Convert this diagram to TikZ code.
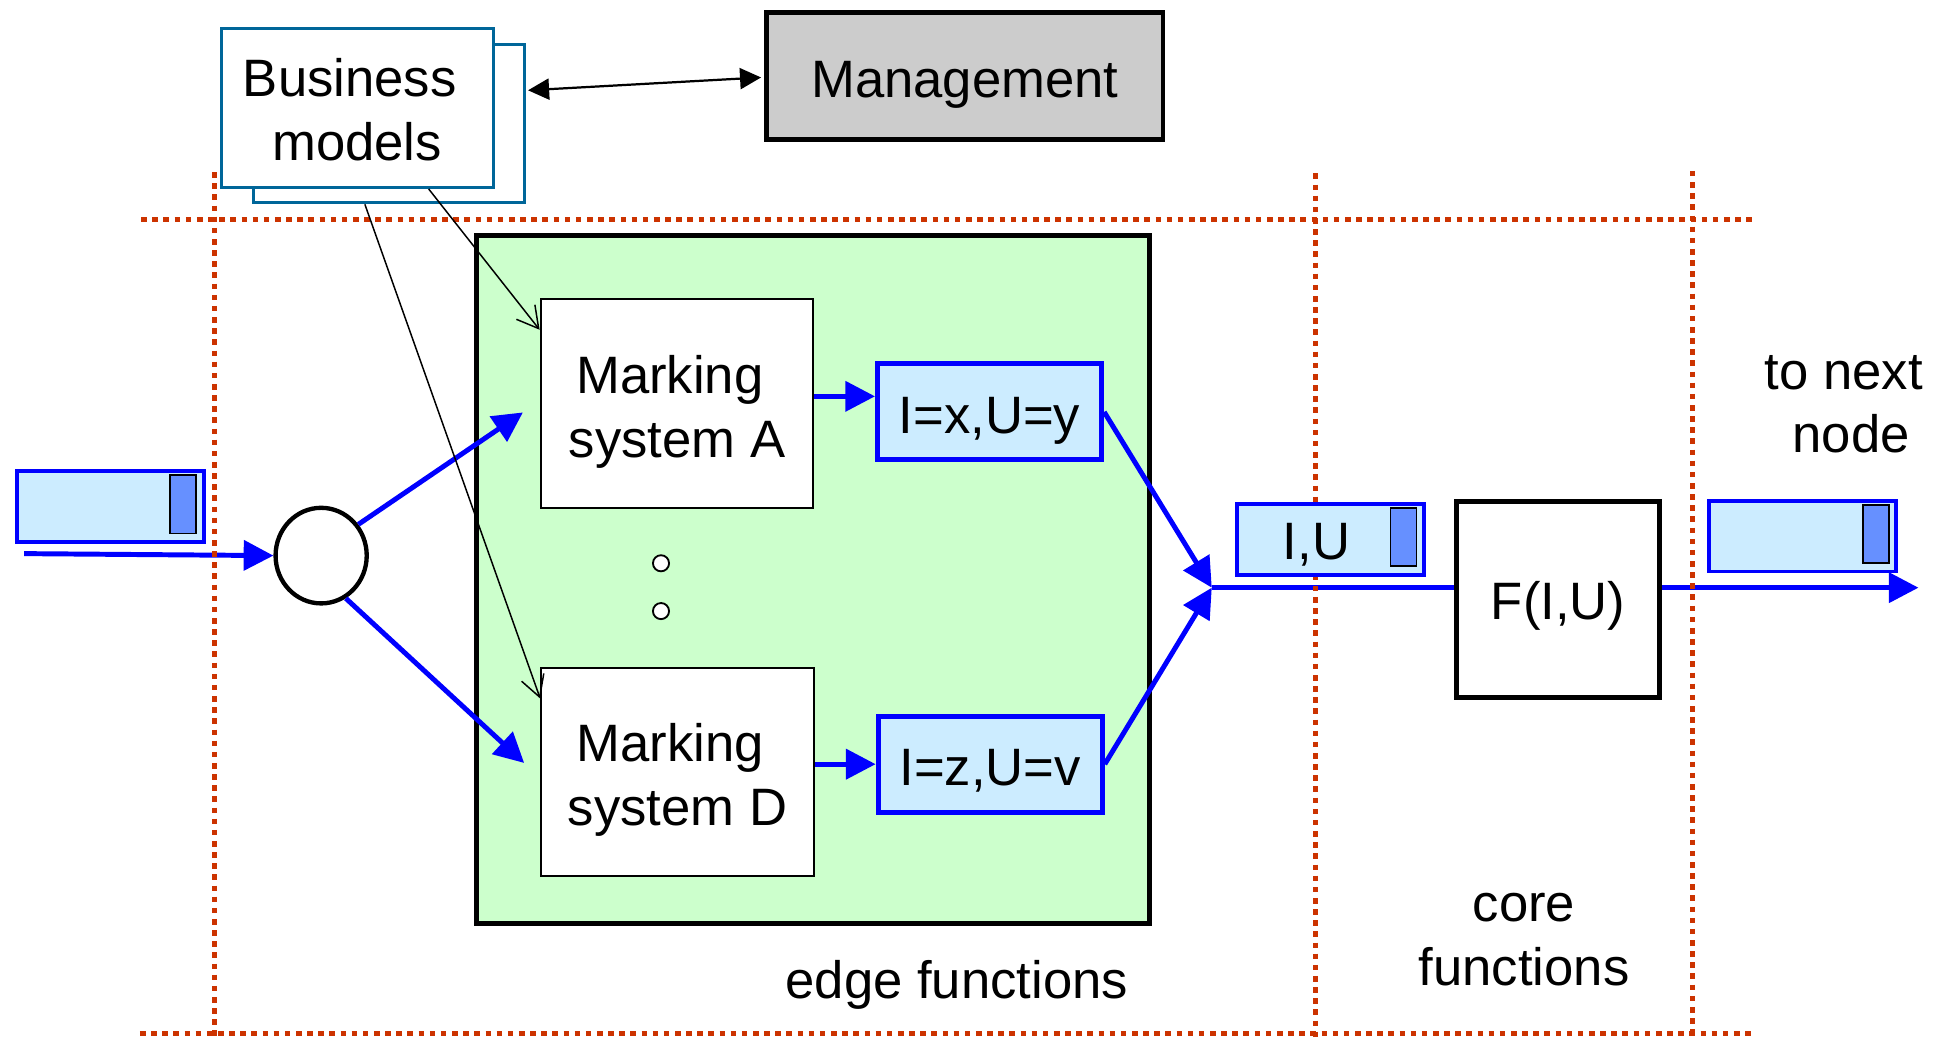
\documentclass[tikz,border=0pt]{standalone}
\usepackage{fontspec}
\setmainfont{Liberation Sans}
\usetikzlibrary{arrows.meta,shapes.geometric}

\definecolor{pktfill}{RGB}{204,236,255}
\definecolor{slotfill}{RGB}{102,144,255}
\definecolor{bmblue}{RGB}{0,102,153}
\definecolor{edgegreen}{RGB}{204,255,204}
\definecolor{mgmtgray}{RGB}{204,204,204}
\definecolor{zonered}{RGB}{204,51,0}

\tikzset{
  big/.style={font=\fontsize{42.5}{51.5}\selectfont},
  oneline/.style={big, text height=35pt, text depth=0pt},
  stack/.style={big, align=center, inner sep=0pt, anchor=north},
  bmbox/.style={draw=bmblue, line width=2.5pt, fill=white, minimum width=219pt, minimum height=128pt, inner sep=0pt},
  msbox/.style={draw=black, line width=1.6pt, fill=white, minimum width=220pt, minimum height=168.5pt, inner sep=0pt},
  tagbox/.style={oneline, draw=blue, line width=4pt, fill=pktfill, minimum width=181pt, minimum height=77.5pt, inner sep=0pt},
  pkt/.style={draw=blue, line width=3pt, fill=pktfill, minimum width=151pt, minimum height=57pt, inner sep=0pt},
  slot/.style={draw=black, line width=1.5pt, fill=slotfill, minimum width=21pt, minimum height=47pt, inner sep=0pt},
  flow/.style={draw=blue, line width=4pt},
  flowarrow/.style={flow, -{Triangle[length=24pt,width=24pt]}},
  thinarrow/.style={draw=black, line width=1.2pt, -{Straight Barb[length=17pt,width=19pt]}},
  zone/.style={draw=zonered, line width=4pt, dash pattern=on 4.5pt off 4.5pt},
  dotmark/.style={circle, draw=black, line width=1.5pt, fill=white, minimum size=13pt, inner sep=0pt},
}

\begin{document}
\begin{tikzpicture}[x=1pt,y=-1pt]
\useasboundingbox (0,0) rectangle (1568,838);

% business models (two stacked sheets) and management
\node[bmbox] (bmback) at (314.1,99.7) {};
\node[bmbox] (bm) at (288.6,87.3) {};
\node[stack] (bmtext) at (288.3,41.95) {\strut Business\kern.278em\\models};
\node[oneline, draw=black, line width=4pt, fill=mgmtgray, minimum width=320pt,
      minimum height=103pt, inner sep=0pt] (mgmt) at (779,61.5) {Management};
\draw[line width=1.8pt, {Triangle[length=17pt,width=17pt]}-{Triangle[length=17pt,width=17pt]},
      shorten <=1.5pt, shorten >=2.5pt]
  ([yshift=26.7pt]bmback.east) -- ([yshift=-0.9pt]mgmt.west);

% edge node: marking systems
\node[draw=black, line width=4pt, fill=edgegreen, minimum width=543pt,
      minimum height=555.6pt, inner sep=0pt] (edge) at (656.5,468.2) {};
\node[msbox] (msA) at (546.5,326) {};
\node[stack] (msAtext) at (546.7,281.55) {\strut Marking\kern.278em\\system A};
\node[msbox] (msD) at (547,623.4) {};
\node[stack] (msDtext) at (547,578.95) {\strut Marking\kern.278em\\system D};
\node[dotmark] (dot1) at (533.7,454.8) {};
\node[dotmark] (dot2) at (533.7,493.4) {};
\node[tagbox] (ixy) at (799,332.6) {I=x,U=y};
\node[tagbox] (izv) at (799.5,617) {I=z,U=v};
\coordinate (aout) at ([yshift=6pt]msA.east);
\draw[flowarrow] (aout) -- (aout -| ixy.west);
\draw[flowarrow] (msD.east |- izv.west) -- (izv.west);

% classifier, core function and the packet path
\node[ellipse, draw=black, line width=3.5pt, fill=white, minimum width=73.6pt,
      minimum height=77.2pt, inner sep=0pt] (router) at (259.3,448.6) {};
\coordinate (src) at (19.5,447);
\coordinate (J) at (978.4,474.5);
\coordinate (out) at (1549,474.5);
\node[draw=black, line width=4pt, fill=white, minimum width=164.5pt, minimum height=158.5pt,
      inner sep=0pt, big, text height=32pt, text depth=0pt] (F) at (1258,484) {F(I,U)};
\draw[flowarrow] (src) -- (router.west);
\draw[flowarrow] (router.40) -- ([xshift=-13.5pt,yshift=-7pt]msA.west);
\draw[flowarrow] (router.-60) -- ([xshift=-13pt,yshift=7.4pt]msD.west);
\draw[flowarrow] (ixy.east) -- (J);
\draw[flowarrow] (izv.east) -- (J);
\draw[flow] (J) -- (J -| F.west);
\draw[flowarrow] (F.east |- J) -- (out);

% domain boundaries
\draw[zone] (114,177.5) -- (1418,177.5);
\draw[zone] (113,834.5) -- (1418,834.5);
\draw[zone] (173,139) -- (173,838);
\draw[zone] (1062,140) -- (1062,838);
\draw[zone] (1366.5,138) -- (1366.5,838);

% packets
\node[pkt] (pin) at (89,409) {};
\node[slot] (pinslot) at (148,407.3) {};
\node[pkt] (piu) at (1074,435.5) {};
\node[slot] (piuslot) at (1133.2,433.7) {};
\node[big, anchor=base, inner sep=0pt] (iutext) at (1063,452) {I,U};
\node[pkt] (pout) at (1455.5,433) {};
\node[slot] (poutslot) at (1514.8,431.3) {};

% policy links from the business models
\draw[thinarrow] ([xshift=57.5pt]bm.south) -- ([yshift=-25.3pt]msA.north west);
\draw[thinarrow] ([xshift=-19.5pt]bmback.south) -- ([yshift=-25.7pt]msD.north west);

% region labels
\node[stack] (tonext) at (1494.7,277.95) {\strut to next\kern.278em\\node};
\node[stack] (core) at (1230.5,707.95) {\strut core\\functions};
\node[big, anchor=base, inner sep=0pt] (edgelabel) at (772.5,806) {edge functions};
\end{tikzpicture}
\end{document}
